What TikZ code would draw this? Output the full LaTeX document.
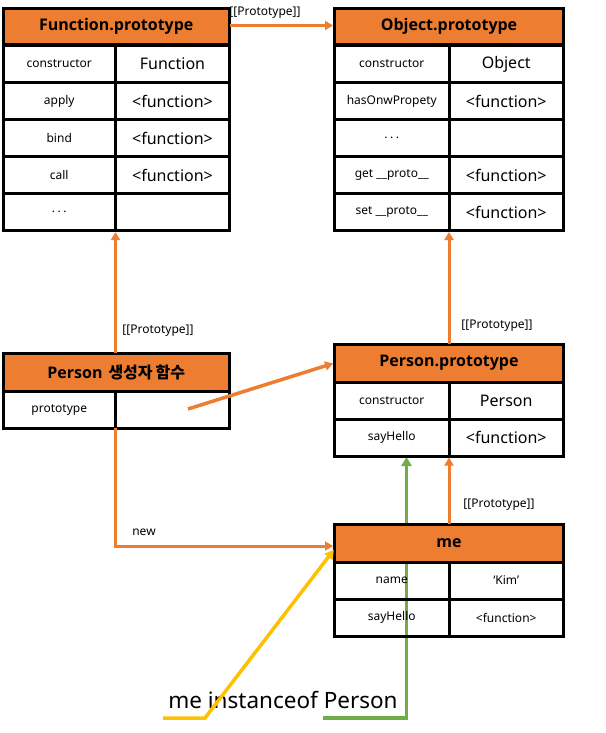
\documentclass[tikz,border=0pt]{standalone}
\usepackage{fontspec}
\setmainfont{Noto Sans}
\newfontfamily\hdf{Open Sans}
\newfontfamily\kr{Noto Sans CJK KR}
\usetikzlibrary{arrows.meta}
\definecolor{og}{HTML}{ED7D31}
\definecolor{gr}{HTML}{70AD47}
\definecolor{yl}{HTML}{FFC000}
\begin{document}
\begin{tikzpicture}[x=1pt,y=-1pt,
  cell/.style={draw=black,line width=3pt,inner sep=0pt,outer sep=0pt,minimum height=37pt},
  sm/.style={font=\fontsize{12}{14}\selectfont},
  bg/.style={font=\fontsize{16}{19}\selectfont},
  lcA/.style={cell,minimum width=112.5pt},
  rcA/.style={cell,minimum width=114pt},
  lcB/.style={cell,minimum width=114.5pt},
  rcB/.style={cell,minimum width=114.5pt},
  hd/.style={draw=black,line width=3pt,fill=og,inner sep=0pt,outer sep=0pt,
    font=\hdf\bfseries\fontsize{16}{19}\selectfont},
  hdA/.style={hd,minimum width=226.5pt,minimum height=36.5pt},
  hdB/.style={hd,minimum width=229pt,minimum height=38pt},
  hdC/.style={hd,minimum width=226.5pt,minimum height=38pt},
  lbl/.style={font=\fontsize{12}{14}\selectfont,inner sep=0pt},
  oarr/.style={draw=og,line width=3pt,-{Triangle[width=9pt,length=8pt]}},
  garr/.style={draw=gr,line width=3.5pt,-{Triangle[width=10pt,length=9pt]}},
  yarr/.style={draw=yl,line width=3.5pt,-{Triangle[width=10pt,length=9pt]}}
]
\useasboundingbox (0,0) rectangle (605,733);

% green line (behind the tables)
\coordinate (g0) at (323,718);
\coordinate (gup) at (406.5,437.5);
\draw[garr] (g0) -| (gup |- 0,457);

% Function.prototype
\node[hdA] (fph) at (116.25,26.75) {Function.prototype};
\node[lcA,sm] (f1L) at (59.25,64) {constructor};
\node[rcA,bg] (f1R) at (172.5,64) {Function};
\node[lcA,sm] (f2L) at (59.25,101) {apply};
\node[rcA,bg] (f2R) at (172.5,101) {<function>};
\node[lcA,sm] (f3L) at (59.25,138) {bind};
\node[rcA,bg] (f3R) at (172.5,138) {<function>};
\node[lcA,sm] (f4L) at (59.25,175) {call};
\node[rcA,bg] (f4R) at (172.5,175) {<function>};
\node[lcA,sm] (f5L) at (59.25,212) {.\hspace{2.5pt}.\hspace{2.5pt}.};
\node[rcA,bg] (f5R) at (172.5,212) {};

% Object.prototype
\node[hdB,minimum height=36.5pt] (oph) at (449,26.75) {Object.prototype};
\node[lcB,sm] (o1L) at (391.75,64) {constructor};
\node[rcB,bg] (o1R) at (506.25,64) {Object};
\node[lcB,sm] (o2L) at (391.75,101) {hasOnwPropety};
\node[rcB,bg] (o2R) at (506.25,101) {<function>};
\node[lcB,sm] (o3L) at (391.75,138) {.\hspace{2.5pt}.\hspace{2.5pt}.};
\node[rcB,bg] (o3R) at (506.25,138) {};
\node[lcB,sm] (o4L) at (391.75,175) {get \_\_proto\_\_};
\node[rcB,bg] (o4R) at (506.25,175) {<function>};
\node[lcB,sm] (o5L) at (391.75,212) {set \_\_proto\_\_};
\node[rcB,bg] (o5R) at (506.25,212) {<function>};

% Person constructor
\node[hdC] (pch) at (116.25,372) {Person\hspace{6pt}{\kr\bfseries 생성자\hspace{3pt}함수}};
\node[lcA,sm] (pcL) at (59.25,409.5) {prototype};
\node[rcA] (pcR) at (172.5,409.5) {};

% Person.prototype
\node[hdB] (pph) at (449,363) {Person.prototype};
\node[lcB,sm] (pp1L) at (391.75,400.5) {constructor};
\node[rcB,bg] (pp1R) at (506.25,400.5) {Person};
\node[lcB,sm] (pp2L) at (391.75,437.5) {sayHello};
\node[rcB,bg] (pp2R) at (506.25,437.5) {<function>};

% me
\node[hdB] (meh) at (449,543) {me};
\node[lcB,sm] (me1L) at (391.75,580.5) {name};
\node[rcB,sm] (me1R) at (506.25,580.5) {‘Kim’};
\node[lcB,sm] (me2L) at (391.75,617.5) {sayHello};
\node[rcB,sm] (me2R) at (506.25,617.5) {<function>};

% connectors
\draw[oarr,shorten >=1.5pt] (fph.east |- 0,25.5) -- (oph.west |- 0,25.5);
\node[lbl] (l1) at (265,13) {[[Prototype]]};

\draw[oarr,shorten >=1.5pt] (pch.north -| pcL.east) -- (f5L.south east);
\node[lbl] (l2) at (158,331) {[[Prototype]]};

\draw[oarr,shorten >=1.5pt] (pph.north -| pp1L.east) -- (o5L.south east);
\node[lbl] (l3) at (497,326) {[[Prototype]]};

\coordinate (pcs) at (188,409);
\draw[oarr,line width=3.5pt,shorten >=1.5pt] (pcs) -- (pph.west);

\draw[oarr,shorten >=1.5pt] (pcL.south east) |- ([yshift=-3pt]meh.west);
\node[lbl] (l4) at (144,532) {new};

\draw[oarr,shorten >=1.5pt] (meh.north -| me1L.east) -- (pp2L.south east);
\node[lbl] (l5) at (499,505) {[[Prototype]]};

\node[font=\fontsize{22.5}{26}\selectfont,inner sep=0pt,anchor=base] (inst) at (283,708) {me instanceof Person};

\coordinate (y0) at (163,718);
\coordinate (y1) at (205,718);
\draw[yarr,shorten >=1pt] (y0) -- (y1) -- ([yshift=-6pt]meh.west);
\end{tikzpicture}
\end{document}
